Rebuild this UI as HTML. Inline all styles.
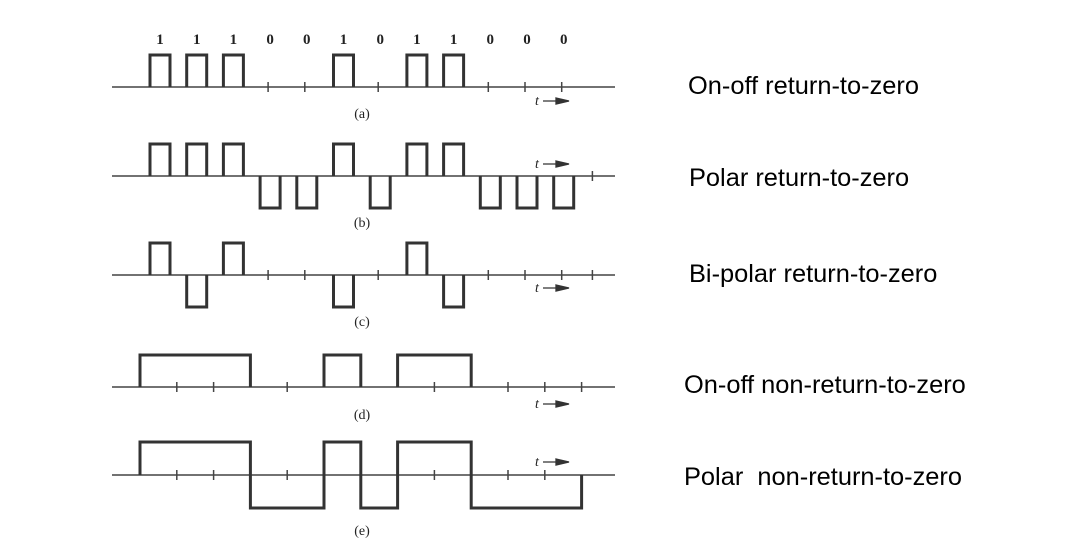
<!DOCTYPE html>
<html><head><meta charset="utf-8"><style>
html,body{margin:0;padding:0;background:#fff;}
svg{display:block;}
.lbl{font-family:"Liberation Sans",Arial,sans-serif;font-size:25.4px;fill:#000;}
.sm{font-family:"Liberation Serif",serif;font-size:14px;fill:#222;}
.bit{font-family:"Liberation Serif",serif;font-size:15px;font-weight:bold;fill:#222;}
</style></head><body>
<svg id="chart" width="1088" height="554" viewBox="0 0 1088 554">
<text class="lbl" x="688" y="94">On-off return-to-zero</text>
<text class="lbl" x="689" y="186">Polar return-to-zero</text>
<text class="lbl" x="689" y="282">Bi-polar return-to-zero</text>
<text class="lbl" x="684" y="393">On-off non-return-to-zero</text>
<text class="lbl" x="684" y="485" xml:space="preserve">Polar  non-return-to-zero</text>
</svg>
<script>
const bits = [1,1,1,0,0,1,0,1,1,0,0,0];
const panelNames = ['a','b','c','d','e'];
const panelTypes = ['onoff-rz','polar-rz','bipolar-rz','onoff-nrz','polar-nrz'];

const svg = document.getElementById('chart');
const NS = 'http://www.w3.org/2000/svg';
function mk(tag, attrs){const e=document.createElementNS(NS,tag);for(const k in attrs)e.setAttribute(k,attrs[k]);svg.appendChild(e);return e;}

const base = [87,176,275,387,475];
const amp = [32,32,32,32,33];
const capY = [113,222,321,414,530];
const tY = [101,164,288,404,462];
const rzX0 = 150, rzT = 36.7, rzW = 20;
const nrzX0 = 140, nrzT = 36.8;
const stroke = '#333';

bits.forEach((b,i)=>{
  const t = mk('text',{class:'bit',x:rzX0+i*rzT+rzW/2,y:44,'text-anchor':'middle'});
  
  
  t.textContent = b;
});

function levels(type){
  let sign = 1;
  return bits.map(b=>{
    if(type==='onoff-rz'||type==='onoff-nrz') return b;
    if(type==='polar-rz'||type==='polar-nrz') return b?1:-1;
    if(b){const v=sign;sign=-sign;return v;} return 0;
  });
}

panelTypes.forEach((type,p)=>{
  const y0 = base[p], A = amp[p];
  const lv = levels(type);
  const yOf = v => y0 - v*A;
  const bl = mk('line',{x1:112,x2:615,y1:y0,y2:y0,stroke:'#444','stroke-width':1.5});
  
  
  let d = '';
  const ticks = [];
  if(type.endsWith('-rz')){
    lv.forEach((v,i)=>{
      const xs = rzX0+i*rzT;
      if(v!==0){ d += `M${xs},${y0}V${yOf(v)}H${xs+rzW}V${y0}`; }
      else ticks.push(xs+rzW/2-2);
    });
    if(type!=='onoff-rz') ticks.push(rzX0+12*rzT+2);
  } else {
    let i = 0;
    while(i<lv.length){
      const v = lv[i];
      let j = i; while(j<lv.length && lv[j]===v) j++;
      const xs = nrzX0+i*nrzT, xe = nrzX0+j*nrzT;
      if(v!==0){ d += `M${xs},${y0}V${yOf(v)}H${xe}V${y0}`; }
      for(let k=i+1;k<j;k++) ticks.push(nrzX0+k*nrzT);
      if(v===0 && j===lv.length) ticks.push(xe);
      i = j;
    }
  }
  const path = mk('path',{d:d,fill:'none',stroke:stroke,'stroke-width':3});
  
  
  ticks.forEach(tx=>{
    const tk = mk('line',{x1:tx,x2:tx,y1:y0-5,y2:y0+5,stroke:'#444','stroke-width':1.5});
    
    
  });
  const ta = mk('text',{class:'sm',x:535,y:tY[p]+4,'font-style':'italic'});
  
  
  ta.textContent='t';
  const al = mk('path',{d:`M543,${tY[p]}H562M556,${tY[p]-3}L569,${tY[p]}L556,${tY[p]+3}Z`,stroke:'#333','stroke-width':1.3,fill:'#333'});
  
  
  const cap = mk('text',{class:'sm',x:362,y:capY[p]+5,'text-anchor':'middle'});
  
  
  cap.textContent='('+panelNames[p]+')';
});
</script>
</body></html>
